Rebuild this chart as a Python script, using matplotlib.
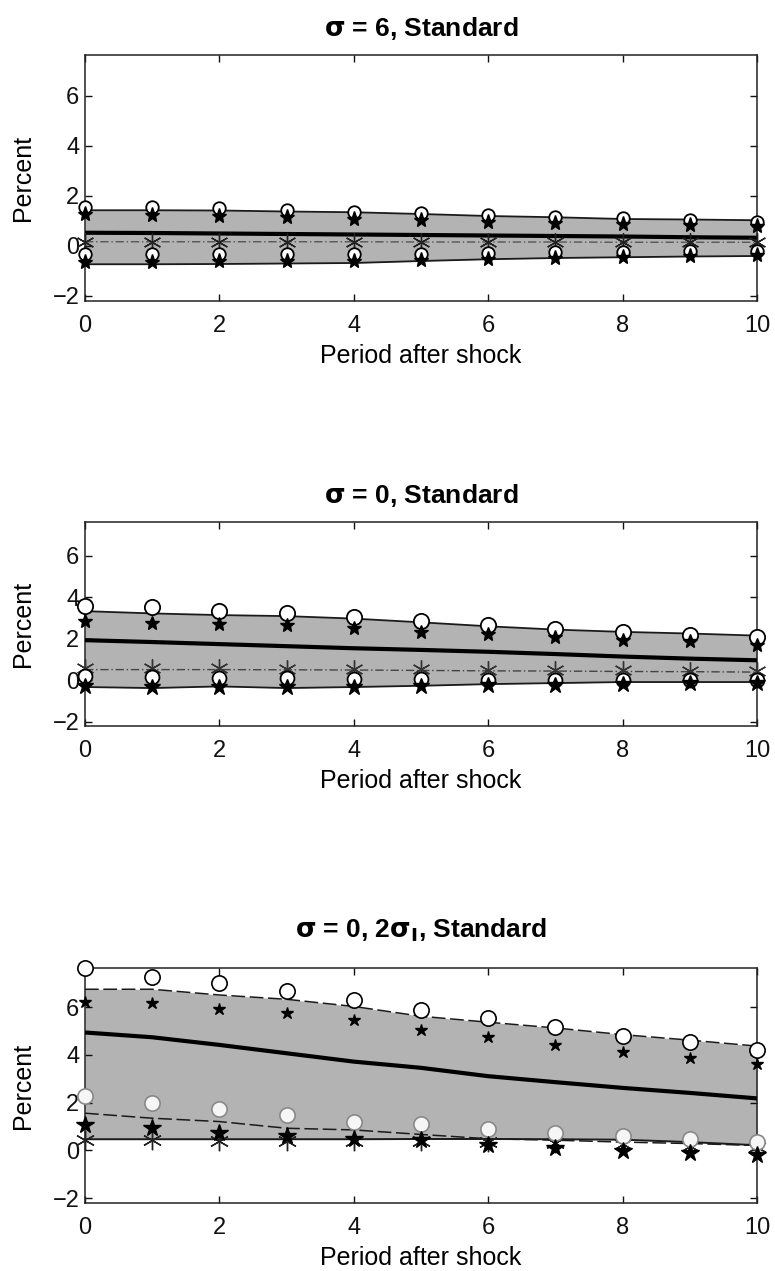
import matplotlib
matplotlib.use("Agg")
import matplotlib.pyplot as plt

plt.rcParams['font.family'] = ['Liberation Sans', 'DejaVu Sans']

periods = list(range(11))
x_ticks = [0, 2, 4, 6, 8, 10]
y_ticks = [-2, 0, 2, 4, 6]

titles = [r"$\mathbf{\sigma}$ = 6, Standard",
          r"$\mathbf{\sigma}$ = 0, Standard",
          r"$\mathbf{\sigma}$ = 0, 2$\mathbf{\sigma_I}$, Standard"]

# sigma = 6
p1_band_hi = [1.43, 1.43, 1.42, 1.38, 1.35, 1.28, 1.20, 1.15, 1.08, 1.06, 1.03]
p1_band_lo = [-0.73, -0.73, -0.72, -0.70, -0.68, -0.60, -0.53, -0.48, -0.45, -0.42, -0.40]
p1_median = [0.53, 0.52, 0.50, 0.48, 0.46, 0.44, 0.42, 0.40, 0.38, 0.35, 0.33]
p1_xline = [0.17, 0.17, 0.17, 0.17, 0.17, 0.16, 0.16, 0.16, 0.15, 0.15, 0.15]
p1_circ_hi = [1.56, 1.55, 1.52, 1.45, 1.38, 1.31, 1.23, 1.17, 1.12, 1.05, 0.97]
p1_star_hi = [1.27, 1.24, 1.21, 1.16, 1.10, 1.04, 0.98, 0.93, 0.89, 0.84, 0.80]
p1_circ_lo = [-0.33, -0.33, -0.32, -0.33, -0.32, -0.30, -0.28, -0.25, -0.22, -0.20, -0.18]
p1_star_lo = [-0.62, -0.62, -0.60, -0.60, -0.58, -0.55, -0.50, -0.46, -0.43, -0.40, -0.37]
p1_ast = [0.17, 0.17, 0.17, 0.17, 0.17, 0.16, 0.16, 0.16, 0.15, 0.15, 0.15]

# sigma = 0
p2_band_hi = [3.34, 3.23, 3.15, 3.10, 2.98, 2.80, 2.61, 2.45, 2.34, 2.26, 2.16]
p2_band_lo = [-0.32, -0.37, -0.29, -0.37, -0.32, -0.26, -0.18, -0.13, -0.08, -0.08, -0.08]
p2_median = [1.94, 1.85, 1.75, 1.65, 1.55, 1.47, 1.38, 1.27, 1.15, 1.05, 0.97]
p2_xline = [0.52, 0.52, 0.52, 0.51, 0.50, 0.48, 0.46, 0.45, 0.43, 0.42, 0.40]
p2_circ_hi = [3.61, 3.53, 3.34, 3.23, 3.05, 2.85, 2.69, 2.50, 2.32, 2.18, 2.08]
p2_star_hi = [2.85, 2.77, 2.74, 2.65, 2.53, 2.32, 2.26, 2.08, 1.94, 1.89, 1.73]
p2_circ_lo = [0.19, 0.15, 0.12, 0.10, 0.08, 0.06, 0.04, 0.03, 0.03, 0.03, 0.03]
p2_star_lo = [-0.29, -0.32, -0.32, -0.32, -0.30, -0.28, -0.24, -0.20, -0.16, -0.14, -0.13]
p2_ast = [0.60, 0.58, 0.58, 0.57, 0.56, 0.54, 0.52, 0.50, 0.48, 0.46, 0.45]

# sigma = 0, 2 sigma_I
p3_band_hi = [6.75, 6.75, 6.51, 6.33, 6.03, 5.62, 5.37, 5.13, 4.85, 4.62, 4.37]
p3_band_lo = [0.47, 0.47, 0.47, 0.47, 0.47, 0.48, 0.48, 0.47, 0.45, 0.35, 0.22]
p3_median = [4.94, 4.74, 4.42, 4.07, 3.72, 3.46, 3.11, 2.86, 2.62, 2.41, 2.18]
p3_dash_lo = [1.56, 1.35, 1.21, 0.93, 0.86, 0.67, 0.49, 0.43, 0.35, 0.29, 0.21]
p3_circ_hi = [7.63, 7.28, 7.03, 6.69, 6.28, 5.90, 5.55, 5.17, 4.81, 4.53, 4.20]
p3_star_hi = [6.23, 6.16, 5.91, 5.75, 5.47, 5.03, 4.74, 4.41, 4.13, 3.88, 3.60]
p3_circ_lo = [2.26, 1.98, 1.73, 1.49, 1.21, 1.09, 0.88, 0.74, 0.60, 0.49, 0.35]
p3_star_lo = [1.07, 0.93, 0.75, 0.59, 0.47, 0.43, 0.21, 0.11, -0.03, -0.10, -0.17]
p3_ast = [0.45, 0.42, 0.40, 0.40, 0.40, 0.38, 0.35, 0.30, 0.25, 0.20, 0.15]

BAND = '#b3b3b3'
AST = (6, 2, 0)

fig = plt.figure(figsize=(7.75, 12.71), dpi=100)
left, width = 85 / 775, 672 / 775
H = 1271
boxes = [(55, 301), (522, 726), (968, 1203)]
axes = [fig.add_axes([left, 1 - b / H, width, (b - t) / H]) for t, b in boxes]


def style(ax, title, title_pad):
    ax.set_xlim(0, 10)
    ax.set_ylim(-2.2, 7.64)
    ax.set_xticks(x_ticks)
    ax.set_yticks(y_ticks)
    ax.set_yticklabels(['\u22122', '0', '2', '4', '6'])
    ax.tick_params(direction='in', length=5, width=1, top=True, right=True,
                   labelsize=17, colors='#111')
    ax.tick_params(axis='x', pad=10)
    ax.tick_params(axis='y', pad=4)
    for s in ax.spines.values():
        s.set_linewidth(1.1)
        s.set_color('#222')
    ax.set_xlabel('Period after shock', fontsize=18, labelpad=5)
    ax.set_ylabel('Percent', fontsize=18, labelpad=13)
    ax.set_title(title, fontsize=19, fontweight='bold', pad=title_pad)


# panel: sigma = 6
ax = axes[0]
ax.fill_between(periods, p1_band_lo, p1_band_hi, color=BAND, lw=0, zorder=1)
ax.plot(periods, p1_band_hi, color='#1a1a1a', lw=1.3, zorder=2)
ax.plot(periods, p1_band_lo, color='#1a1a1a', lw=1.3, zorder=2)
ax.plot(periods, p1_xline, color='#555', lw=1.0, ls=(0, (6, 2, 1, 2)), zorder=2)
ax.plot(periods, p1_median, color='black', lw=3.0, zorder=3)
ax.plot(periods, p1_ast, ls='none', marker=AST, ms=13, mec='#222', mew=1.0, zorder=4, clip_on=False)
for ys in (p1_circ_hi, p1_circ_lo):
    ax.plot(periods, ys, ls='none', marker='o', ms=9, mfc='white', mec='black', mew=1.3, zorder=5, clip_on=False)
for ys in (p1_star_hi, p1_star_lo):
    ax.plot(periods, ys, ls='none', marker='*', ms=11, mfc='black', mec='black', zorder=6, clip_on=False)
style(ax, titles[0], 14)

# panel: sigma = 0
ax = axes[1]
ax.fill_between(periods, p2_band_lo, p2_band_hi, color=BAND, lw=0, zorder=1)
ax.plot(periods, p2_band_hi, color='#1a1a1a', lw=1.3, zorder=2)
ax.plot(periods, p2_band_lo, color='#1a1a1a', lw=1.3, zorder=2)
ax.plot(periods, p2_xline, color='#444', lw=1.0, ls=(0, (6, 2, 1, 2)), zorder=2)
ax.plot(periods, p2_median, color='black', lw=3.0, zorder=3)
ax.plot(periods, p2_ast, ls='none', marker=AST, ms=13, mec='#333', mew=1.0, zorder=4, clip_on=False)
ax.plot(periods, p2_circ_hi, ls='none', marker='o', ms=11, mfc='white', mec='black', mew=1.3, zorder=5, clip_on=False)
ax.plot(periods, p2_circ_lo, ls='none', marker='o', ms=10, mfc='white', mec='black', mew=1.3, zorder=5, clip_on=False)
ax.plot(periods, p2_star_hi, ls='none', marker='*', ms=10, mfc='black', mec='black', zorder=6, clip_on=False)
ax.plot(periods, p2_star_lo, ls='none', marker='*', ms=12, mfc='black', mec='black', zorder=6, clip_on=False)
style(ax, titles[1], 14)

# panel: sigma = 0, 2 sigma_I
ax = axes[2]
ax.fill_between(periods, p3_band_lo, p3_band_hi, color=BAND, lw=0, zorder=1)
ax.plot(periods, p3_band_hi, color='#1a1a1a', lw=1.1, ls=(0, (9, 3)), zorder=2)
ax.plot(periods, p3_band_lo, color='#1a1a1a', lw=1.4, zorder=2)
ax.plot(periods, p3_dash_lo, color='#1a1a1a', lw=1.1, ls=(0, (9, 3)), zorder=2)
ax.plot(periods, p3_median, color='black', lw=3.0, zorder=3)
ax.plot(periods, p3_ast, ls='none', marker=AST, ms=14, mec='#222', mew=1.0, zorder=4, clip_on=False)
ax.plot(periods, p3_circ_hi, ls='none', marker='o', ms=11, mfc='white', mec='black', mew=1.2, zorder=5, clip_on=False)
ax.plot(periods, p3_circ_lo, ls='none', marker='o', ms=11, mfc='#f6f6f6', mec='#888', mew=1.2, zorder=5, clip_on=False)
ax.plot(periods, p3_star_hi, ls='none', marker='*', ms=9, mfc='black', mec='black', zorder=6, clip_on=False)
ax.plot(periods, p3_star_lo, ls='none', marker='*', ms=13, mfc='black', mec='black', zorder=6, clip_on=False)
style(ax, titles[2], 22)

fig.savefig('out.png', dpi=100)
